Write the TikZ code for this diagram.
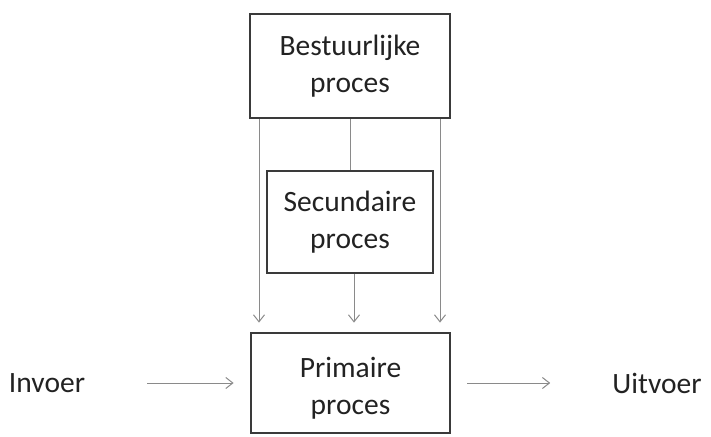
\documentclass[tikz,border=0pt]{standalone}
\usepackage{fontspec}
\setmainfont{Carlito}
\usetikzlibrary{arrows.meta,calc}
\definecolor{boxc}{HTML}{3A3A3A}
\definecolor{arrc}{HTML}{8A8A8A}
\definecolor{txtc}{HTML}{222222}
\tikzset{
  procbox/.style={draw=boxc, line width=2.8pt, rectangle, align=center, inner sep=0pt,
     font=\fontsize{29.5}{37}\selectfont, text=txtc},
  lbl/.style={font=\fontsize{29.5}{37}\selectfont, text=txtc, inner sep=0pt, align=center},
  arr/.style={draw=arrc, line width=1pt, -{Straight Barb[length=7pt,width=11pt]}},
  ln/.style={draw=arrc, line width=1pt}
}
\begin{document}
\begin{tikzpicture}[x=1pt,y=-1pt]
\useasboundingbox (0,0) rectangle (711,436);
\node[procbox, minimum width=200pt, minimum height=104pt] (top) at (350,66) {Bestuurlijke\\proces};
\node[procbox, minimum width=166pt, minimum height=102pt] (sec) at (350,222) {Secundaire\\proces};
\node[procbox, minimum width=199pt, minimum height=100pt] (prim) at (350.5,383) {};
\node[lbl] (primt) at ($(prim.center)+(0,5)$) {Primaire\\proces};
\node[lbl] (in) at (47,383) {Invoer};
\node[lbl] (out) at (657,383) {Uitvoer};
\coordinate (xl) at (259,0);
\coordinate (xm) at (354,0);
\coordinate (xr) at (440,0);
\draw[arr, shorten >=9pt] (top.south -| xl) -- (prim.north -| xl);
\draw[arr, shorten >=9pt] (top.south -| xr) -- (prim.north -| xr);
\draw[ln] (top.south) -- (sec.north);
\draw[arr, shorten >=9pt] (sec.south -| xm) -- (prim.north -| xm);
\draw[arr, shorten <=62pt, shorten >=16pt] (in.east) -- (prim.west);
\draw[arr, shorten <=16pt, shorten >=62pt] (prim.east) -- (out.west);
\end{tikzpicture}
\end{document}
